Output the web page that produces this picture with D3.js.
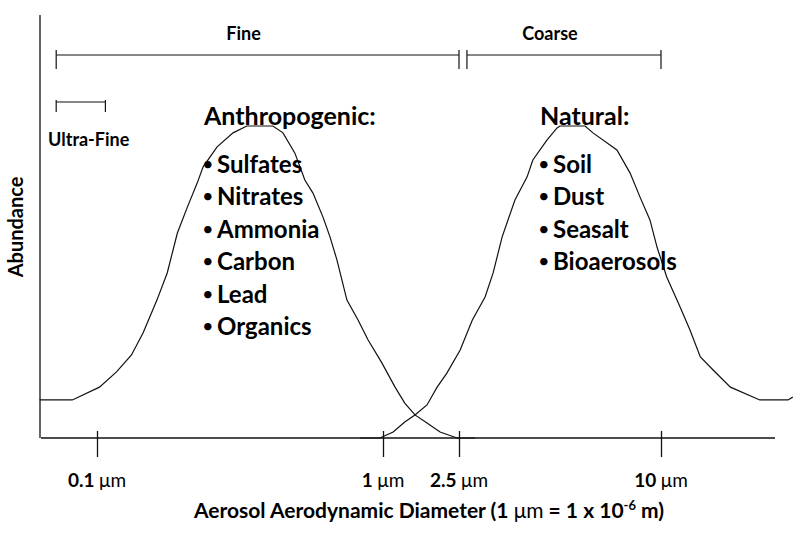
<!DOCTYPE html>
<html>
<head>
<meta charset="utf-8">
<script src="https://cdn.jsdelivr.net/npm/d3@7"></script>
<style>
  body { margin: 0; background: #fff; }
  text { font-family: Lato, "Open Sans", sans-serif; font-weight: bold; fill: #000; }
</style>
</head>
<body>
<svg width="800" height="533"></svg>
<script>
// diameters in um, abundance relative to the peak (1 = top)
const tickDiameters = [0.1, 1, 2.5, 10];
const tickLabels = ["0.1", "1", "2.5", "10"];

const fineMode = [
  [0.063, 0.122], [0.082, 0.122], [0.102, 0.163], [0.117, 0.212], [0.132, 0.266],
  [0.145, 0.337], [0.162, 0.442], [0.176, 0.529], [0.191, 0.657], [0.207, 0.740],
  [0.224, 0.817], [0.235, 0.869], [0.263, 0.933], [0.299, 0.978], [0.334, 1.0],
  [0.412, 1.0], [0.447, 0.978], [0.492, 0.913], [0.533, 0.827], [0.569, 0.785],
  [0.617, 0.708], [0.653, 0.644], [0.690, 0.571], [0.748, 0.442], [0.818, 0.378],
  [0.887, 0.314], [0.992, 0.240], [1.156, 0.163], [1.30, 0.112], [1.47, 0.074],
  [1.70, 0.048], [1.99, 0.019], [2.44, 0.0], [2.79, 0.0]
];

const coarseMode = [
  [0.83, 0.0], [0.976, 0.0], [1.13, 0.019], [1.30, 0.051], [1.47, 0.074],
  [1.70, 0.106], [1.92, 0.163], [2.16, 0.208], [2.52, 0.282], [2.74, 0.378],
  [2.99, 0.452], [3.16, 0.529], [3.36, 0.644], [3.67, 0.763], [3.99, 0.837],
  [4.15, 0.891], [4.57, 0.955], [4.90, 0.994], [5.00, 1.0], [5.94, 1.0],
  [6.27, 0.978], [7.39, 0.923], [8.09, 0.849], [8.66, 0.772], [9.27, 0.699],
  [9.73, 0.612], [10.4, 0.516], [11.4, 0.420], [12.2, 0.346], [13.1, 0.260],
  [14.3, 0.218], [16.1, 0.163], [19.7, 0.122], [23.9, 0.122], [24.7, 0.131]
];

const sizeRanges = [
  { name: "Fine", from: 0.072, to: 2.5 },
  { name: "Coarse", from: 2.64, to: 10 }
];
const ultraFine = { name: "Ultra-Fine", from: 0.072, to: 0.107 };

const anthropogenic = ["Sulfates", "Nitrates", "Ammonia", "Carbon", "Lead", "Organics"];
const natural = ["Soil", "Dust", "Seasalt", "Bioaerosols"];

const svg = d3.select("svg");

// the original axis is only roughly logarithmic, so the ticks pin the scale
const x = d3.scaleLinear()
  .domain(tickDiameters.map(Math.log10))
  .range([97, 383, 459, 661]);
const lx = d => x(Math.log10(d));
const y = d3.scaleLinear().domain([0, 1]).range([438, 126]);

const ink = "#111";

// axes
svg.append("line")
  .attr("x1", 40).attr("x2", 40)
  .attr("y1", 15).attr("y2", y(0))
  .attr("stroke", ink).attr("stroke-width", 1.3);

svg.append("line")
  .attr("x1", 41).attr("x2", 775)
  .attr("y1", y(0)).attr("y2", y(0))
  .attr("stroke", ink).attr("stroke-width", 1.3);

const xAxis = svg.append("g")
  .attr("transform", `translate(0,${y(0) - 7})`)
  .call(d3.axisBottom(x)
    .tickValues(tickDiameters.map(Math.log10))
    .tickSize(26)
    .tickFormat(""));
xAxis.select(".domain").remove();
xAxis.selectAll(".tick line").attr("stroke", ink).attr("stroke-width", 1.3);

const tl = svg.append("g").selectAll("text")
  .data(tickDiameters)
  .enter()
  .append("text")
  .attr("x", d => lx(d))
  .attr("y", 487)
  .attr("text-anchor", "middle")
  .style("font-size", "19px");
tl.append("tspan").text((d, i) => tickLabels[i] + " ");
tl.append("tspan").style("font-weight", "normal").text("\u03bcm");

const title = svg.append("text")
  .attr("x", 429).attr("y", 518)
  .attr("text-anchor", "middle")
  .style("font-size", "21px");
title.append("tspan").text("Aerosol Aerodynamic Diameter (1 ");
title.append("tspan").style("font-weight", "normal").text("\u03bcm");
title.append("tspan").text(" = 1 x 10");
title.append("tspan").attr("dy", -8).style("font-size", "13px").text("-6");
title.append("tspan").attr("dy", 8).text(" m)");

svg.append("text")
  .attr("transform", "translate(23,227) rotate(-90)")
  .attr("text-anchor", "middle")
  .style("font-size", "20px")
  .text("Abundance");

// size range brackets
const bracket = (from, to, yy, up, down) => {
  const g = svg.append("g").attr("stroke", ink).attr("stroke-width", 1.2);
  g.append("line").attr("x1", lx(from)).attr("x2", lx(to)).attr("y1", yy).attr("y2", yy);
  [from, to].forEach(d => {
    g.append("line").attr("x1", lx(d)).attr("x2", lx(d))
      .attr("y1", yy - up).attr("y2", yy + down);
  });
};

sizeRanges.forEach(r => bracket(r.from, r.to, 55, 5, 14));
bracket(ultraFine.from, ultraFine.to, 102, 2, 10);

svg.selectAll(".range-label")
  .data(sizeRanges)
  .enter()
  .append("text")
  .attr("class", "range-label")
  .attr("x", d => (lx(d.from) + lx(d.to)) / 2 - 14)
  .attr("y", 40)
  .attr("text-anchor", "middle")
  .style("font-size", "18px")
  .text(d => d.name);

svg.append("text")
  .attr("x", 48).attr("y", 146)
  .style("font-size", "18px")
  .text(ultraFine.name);

// the two modes
const line = d3.line()
  .x(d => lx(d[0]))
  .y(d => y(d[1]));

[fineMode, coarseMode].forEach(m => {
  svg.append("path")
    .datum(m)
    .attr("d", line)
    .attr("fill", "none")
    .attr("stroke", ink)
    .attr("stroke-width", 1.2);
});

// source lists
const sourceList = (heading, items, x0, base) => {
  svg.append("text")
    .attr("x", x0).attr("y", base)
    .style("font-size", "25px")
    .text(heading);
  const g = svg.append("g").selectAll("g")
    .data(items)
    .enter()
    .append("g")
    .attr("transform", (d, i) => `translate(${x0},${base + 47.5 + i * 32.5})`);
  g.append("text").attr("x", -2).attr("y", -2)
    .style("font-size", "20px").style("font-weight", "normal").text("\u2022");
  g.append("text").attr("x", 13).style("font-size", "24px").text(d => d);
};

sourceList("Anthropogenic:", anthropogenic, 204, 125);
sourceList("Natural:", natural, 540, 125);
</script>
</body>
</html>
